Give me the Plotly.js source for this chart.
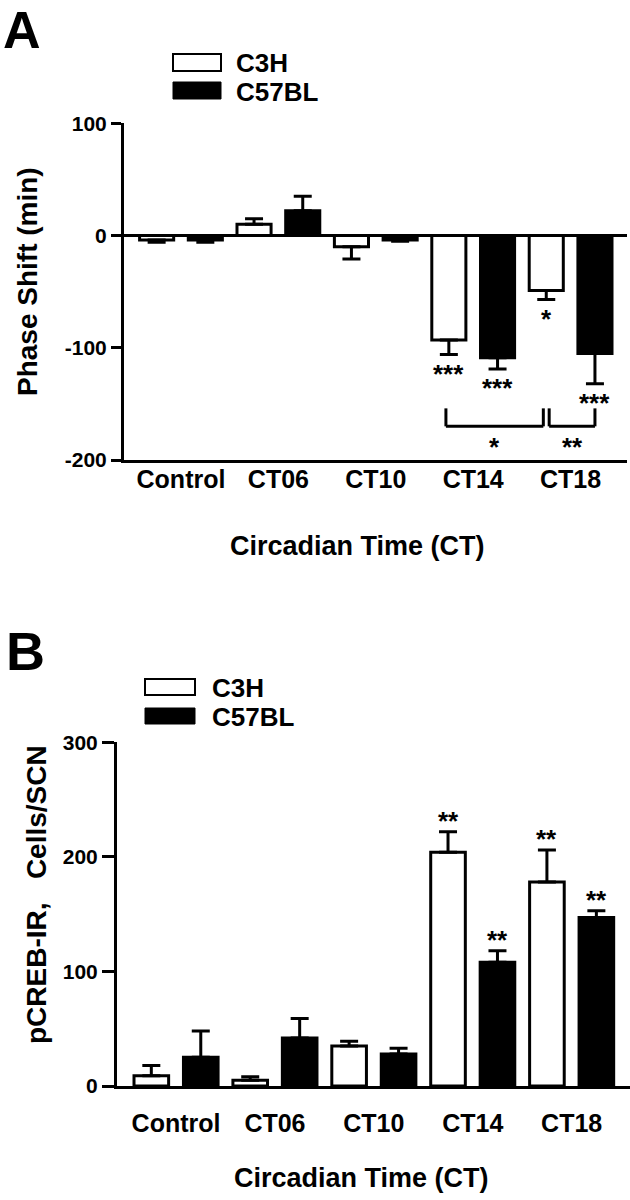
<!DOCTYPE html>
<html><head><meta charset="utf-8">
<script src="https://cdn.plot.ly/plotly-3.0.1.min.js"></script>
<style>html,body{margin:0;padding:0;background:#fff}</style>
</head><body><div id="chart" style="width:630px;height:1200px"></div>
<script>
// ---------- data ----------
const categories = ['Control', 'CT06', 'CT10', 'CT14', 'CT18'];
const strains = ['C3H', 'C57BL'];

// Panel A: phase shift (min)
const phaseC3H    = [-4, 10, -10, -93, -49];
const phaseC3HErr = [2, 5, 11, 13, 8];
const phaseC57    = [-4, 22, -4, -109, -105];
const phaseC57Err = [2, 13, 1, 10, 27];
const phaseSigC3H = ['', '', '', '***', '*'];
const phaseSigC57 = ['', '', '', '***', '***'];
const phaseTickVals   = [-200, -100, 0, 100];
const phaseTickLabels = ['-200', '-100', '0', '100'];

// Panel A comparisons (brackets)
const compFrom   = [['CT14', 'C3H'], ['CT18', 'C3H']];
const compTo     = [['CT18', 'C3H'], ['CT18', 'C57BL']];
const compLabels = ['*', '**'];
const compTop    = -154;
const compBottom = -170;

// Panel B: pCREB-IR cells / SCN
const crebC3H    = [9, 5, 35, 204, 178];
const crebC3HErr = [9, 3, 4, 18, 28];
const crebC57    = [25, 42, 28, 108, 147];
const crebC57Err = [23, 17, 5, 10, 6];
const crebSigC3H = ['', '', '', '**', '**'];
const crebSigC57 = ['', '', '', '**', '**'];
const crebTickVals   = [0, 100, 200, 300];
const crebTickLabels = ['0', '100', '200', '300'];

// ---------- styling helpers ----------
const F = 'Liberation Sans, Arial, Helvetica, sans-serif';
const W = 630, H = 1200;
const px = v => v / W;
const py = v => 1 - v / H;
const OFF = {C3H: -0.25, C57BL: 0.25};
const catX = (c, s) => categories.indexOf(c) + OFF[s];

function barTrace(name, vals, errs, fill, xa, ya) {
  return {
    type: 'bar', name: name, x: categories, y: vals, xaxis: xa, yaxis: ya,
    offsetgroup: name, cliponaxis: false, showlegend: false, hoverinfo: 'skip',
    marker: {color: fill, line: {color: '#000', width: 3}},
    error_y: {
      type: 'data', symmetric: false, visible: true,
      array: vals.map((v, i) => v >= 0 ? errs[i] : 0),
      arrayminus: vals.map((v, i) => v < 0 ? errs[i] : 0),
      color: '#000', thickness: 3, width: 9
    }
  };
}

const data = [
  barTrace(strains[0], phaseC3H, phaseC3HErr, '#ffffff', 'x', 'y'),
  barTrace(strains[1], phaseC57, phaseC57Err, '#000000', 'x', 'y'),
  barTrace(strains[0], crebC3H, crebC3HErr, '#ffffff', 'x2', 'y2'),
  barTrace(strains[1], crebC57, crebC57Err, '#000000', 'x2', 'y2')
];

const annotations = [];
const shapes = [];
function txt(text, x, y, size, opts) {
  annotations.push(Object.assign({
    text: text, x: x, y: y, xref: 'paper', yref: 'paper', showarrow: false,
    xanchor: 'center', yanchor: 'middle', borderpad: 0,
    font: {family: F, size: size, color: '#000', weight: 700}
  }, opts || {}));
}

// panel letters
txt('A', px(2), 1, 52, {xanchor: 'left', yanchor: 'top'});
txt('B', px(5), py(651), 54, {xanchor: 'left'});

// legends (drawn boxes + labels)
function legend(x0, x1, yWhite, yBlack, h, tx, tyW, tyB) {
  shapes.push({type: 'rect', xref: 'paper', yref: 'paper', x0: px(x0), x1: px(x1), y0: py(yWhite), y1: py(yWhite + h), fillcolor: '#fff', line: {color: '#000', width: 2}});
  shapes.push({type: 'rect', xref: 'paper', yref: 'paper', x0: px(x0), x1: px(x1), y0: py(yBlack), y1: py(yBlack + h), fillcolor: '#000', line: {color: '#000', width: 1}});
  txt(strains[0], px(tx), py(tyW), 26, {xanchor: 'left'});
  txt(strains[1], px(tx), py(tyB), 26, {xanchor: 'left'});
}
legend(173, 221, 54, 82, 17, 235, 63, 91.5);
legend(145, 195, 679, 708, 16, 211, 687.5, 716.5);

// axis titles
txt('Phase Shift (min)', px(27), py(282), 28, {textangle: -90});
txt('pCREB-IR,\u00a0\u00a0 Cells/SCN', px(36), py(895), 28, {textangle: -90});
txt('Circadian Time (CT)', px(357), py(546), 27);
txt('Circadian Time (CT)', px(361), py(1178), 27);

// significance stars
function stars(sig, vals, errs, strain, xa, ya, shiftAbove, shiftBelow) {
  sig.forEach((s, i) => {
    if (!s) return;
    const v = vals[i];
    const tip = v >= 0 ? v + errs[i] : v - errs[i];
    annotations.push({
      text: s, x: i + OFF[strain], y: tip, xref: xa, yref: ya, showarrow: false,
      xanchor: 'center', yanchor: 'middle', borderpad: 0,
      yshift: v >= 0 ? shiftAbove : shiftBelow,
      font: {family: F, size: 26, color: '#000', weight: 700}
    });
  });
}
stars(phaseSigC3H, phaseC3H, phaseC3HErr, 'C3H', 'x', 'y', 10, -19);
stars(phaseSigC57, phaseC57, phaseC57Err, 'C57BL', 'x', 'y', 10, -19);
stars(crebSigC3H, crebC3H, crebC3HErr, 'C3H', 'x2', 'y2', 11, -19);
stars(crebSigC57, crebC57, crebC57Err, 'C57BL', 'x2', 'y2', 11, -19);

// comparison brackets
compFrom.forEach((f, k) => {
  const gap = 0.03;
  let xa = catX(f[0], f[1]), xb = catX(compTo[k][0], compTo[k][1]);
  if (k === 0) { xa -= gap; xb -= gap; } else { xa += gap; }
  const ln = {color: '#000', width: 3};
  shapes.push({type: 'line', xref: 'x', yref: 'y', x0: xa, x1: xa, y0: compTop, y1: compBottom, line: ln});
  shapes.push({type: 'line', xref: 'x', yref: 'y', x0: xa, x1: xb, y0: compBottom, y1: compBottom, line: ln});
  shapes.push({type: 'line', xref: 'x', yref: 'y', x0: xb, x1: xb, y0: compTop, y1: compBottom, line: ln});
  annotations.push({
    text: compLabels[k], x: (xa + xb) / 2, y: compBottom, xref: 'x', yref: 'y', showarrow: false,
    xanchor: 'center', yanchor: 'middle', borderpad: 0, yshift: -21,
    font: {family: F, size: 26, color: '#000', weight: 700}
  });
});

const xCommon = {
  type: 'category', showline: true, linewidth: 3, linecolor: '#000',
  ticks: 'outside', tickcolor: 'rgba(0,0,0,0)', showgrid: false, zeroline: false, fixedrange: true
};
const yCommon = {
  showline: true, linewidth: 3, linecolor: '#000', ticks: 'outside', tickwidth: 3, tickcolor: '#000',
  showgrid: false, fixedrange: true, tickfont: {family: F, size: 21, color: '#000', weight: 700}
};

const layout = {
  width: W, height: H, margin: {l: 0, r: 0, t: 0, b: 0},
  paper_bgcolor: '#fff', plot_bgcolor: '#fff', showlegend: false,
  barmode: 'group', bargap: 0, bargroupgap: 0.3,
  font: {family: F, color: '#000', weight: 700},
  xaxis: Object.assign({}, xCommon, {
    domain: [px(124), px(627)], anchor: 'y', range: [-0.585, 4.579], ticklen: 0,
    ticklabelstandoff: -5,
    tickfont: {family: F, size: 25, color: '#000', weight: 700}
  }),
  yaxis: Object.assign({}, yCommon, {
    domain: [py(460), py(123.3)], anchor: 'x', range: [-200, 100], ticklen: 10,
    tickvals: phaseTickVals, ticktext: phaseTickLabels,
    zeroline: true, zerolinewidth: 3, zerolinecolor: '#000'
  }),
  xaxis2: Object.assign({}, xCommon, {
    domain: [px(117), 1], anchor: 'y2', range: [-0.597, 4.59], ticklen: 13,
    tickfont: {family: F, size: 25, color: '#000', weight: 700}
  }),
  yaxis2: Object.assign({}, yCommon, {
    domain: [py(1086), py(742.3)], anchor: 'x2', range: [0, 300], ticklen: 12,
    tickvals: crebTickVals, ticktext: crebTickLabels, zeroline: false
  }),
  annotations: annotations,
  shapes: shapes
};

Plotly.newPlot('chart', data, layout, {staticPlot: true, displayModeBar: false});
</script>
</body></html>
